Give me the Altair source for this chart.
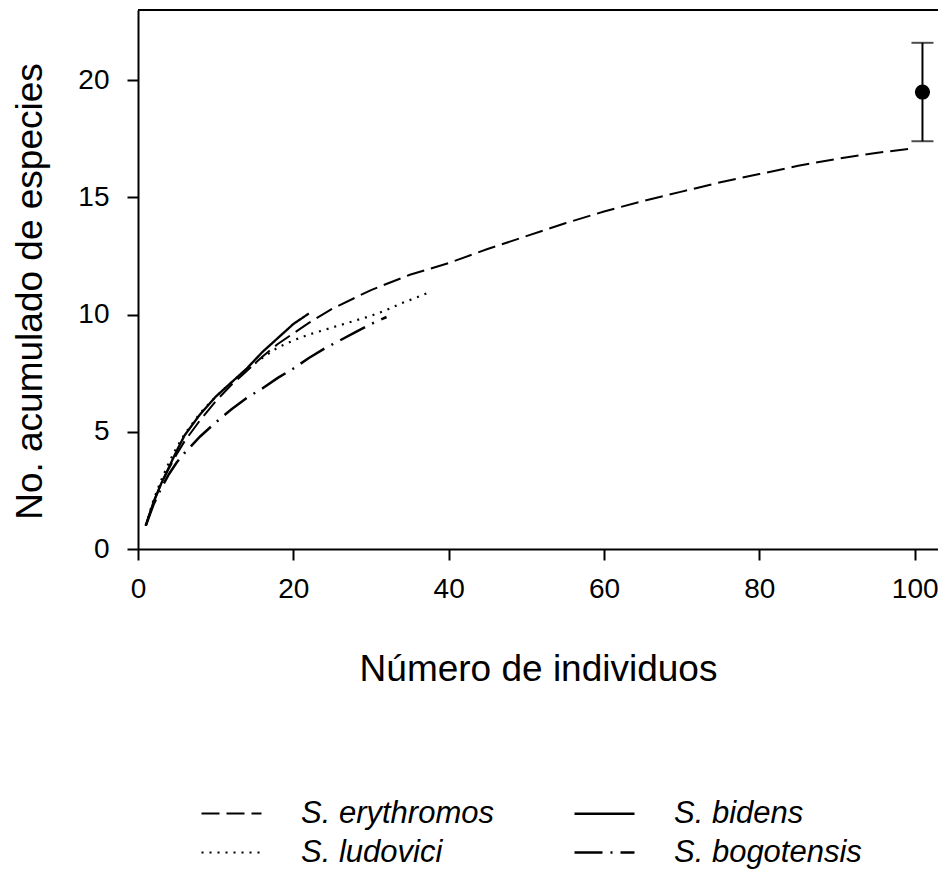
import altair as alt
import pandas as pd

# ---- data ----
ery_x = [1, 2, 3, 4, 5, 6, 8, 10, 12, 14, 16, 18, 20, 22, 25, 30, 35, 40, 45, 50, 55, 60, 65, 70, 75, 80, 85, 90, 95, 100]
ery_y = [1, 2.0, 2.8, 3.45, 4.05, 4.6, 5.5, 6.3, 7.0, 7.6, 8.2, 8.75, 9.2, 9.65, 10.25, 11.05, 11.7, 12.2, 12.8, 13.35, 13.9, 14.4, 14.85, 15.25, 15.65, 16.0, 16.35, 16.65, 16.9, 17.1]

bid_x = [1, 2, 3, 4, 5, 6, 8, 10, 12, 14, 16, 18, 20, 22]
bid_y = [1, 2.0, 2.8, 3.5, 4.2, 4.85, 5.75, 6.5, 7.1, 7.7, 8.4, 9.0, 9.6, 10.05]

lud_x = [1, 2, 3, 4, 5, 6, 8, 10, 12, 14, 16, 18, 20, 22, 24, 26, 28, 30, 32, 34, 36, 37.5]
lud_y = [1, 2.1, 2.95, 3.7, 4.35, 4.9, 5.8, 6.5, 7.1, 7.65, 8.15, 8.6, 8.9, 9.15, 9.35, 9.55, 9.75, 9.95, 10.2, 10.5, 10.75, 10.95]

bog_x = [1, 2, 3, 4, 5, 6, 8, 10, 12, 14, 16, 18, 20, 22, 24, 26, 28, 30, 32]
bog_y = [1, 1.9, 2.6, 3.2, 3.7, 4.1, 4.8, 5.4, 5.95, 6.45, 6.85, 7.3, 7.7, 8.15, 8.55, 8.9, 9.25, 9.6, 9.9]

# legend order (column-major fill): col 1 = erythromos, ludovici; col 2 = bidens, bogotensis
species = ["S. erythromos", "S. ludovici", "S. bidens", "S. bogotensis"]
dashes = [[18, 7], [2, 6], [1, 0], [28, 8, 2, 8]]
widths = [2, 2.5, 3, 2]

est_x = [101]
est_y = [19.5]
est_lo = [17.4]
est_hi = [21.6]

x_ticks = [0, 20, 40, 60, 80, 100]
y_ticks = [0, 5, 10, 15, 20]

# ---- tables ----
rows = []
for name, xs, ys in [("S. erythromos", ery_x, ery_y), ("S. bidens", bid_x, bid_y),
                     ("S. ludovici", lud_x, lud_y), ("S. bogotensis", bog_x, bog_y)]:
    for xv, yv in zip(xs, ys):
        rows.append({"sp": name, "x": xv, "y": yv})
curves = pd.DataFrame(rows)
est = pd.DataFrame({"x": est_x, "y": est_y, "lo": est_lo, "hi": est_hi})

FONT = "Liberation Sans"
W, H = 800, 539

xscale = alt.Scale(domain=[0, 103], nice=False, zero=False)
yscale = alt.Scale(domain=[0, 23], nice=False, zero=False)

xaxis = alt.Axis(values=x_ticks, title="Número de individuos", grid=False,
                 labelFontSize=28, titleFontSize=37, labelFont=FONT, titleFont=FONT,
                 titleFontWeight="normal", labelColor="black", titleColor="black",
                 domainColor="black", tickColor="black", domainWidth=2, tickWidth=2,
                 tickSize=11, labelPadding=15, titlePadding=48, labelFlush=False)
yaxis = alt.Axis(values=y_ticks, title="No. acumulado de especies", grid=False,
                 labelFontSize=28, titleFontSize=37, labelFont=FONT, titleFont=FONT,
                 titleFontWeight="normal", labelColor="black", titleColor="black",
                 domainColor="black", tickColor="black", domainWidth=2, tickWidth=2,
                 tickSize=11, labelPadding=18, titlePadding=28, labelFlush=False,
                 titleY=281)

lines = alt.Chart(curves).mark_line(color="black").encode(
    x=alt.X("x:Q", scale=xscale, axis=xaxis),
    y=alt.Y("y:Q", scale=yscale, axis=yaxis),
    strokeDash=alt.StrokeDash(
        "sp:N",
        scale=alt.Scale(domain=species, range=dashes),
        sort=species,
        legend=alt.Legend(
            title=None, orient="none", legendX=77, legendY=787, columns=2,
            symbolType="M-2,0H2", symbolSize=900, symbolStrokeWidth=2.5,
            symbolStrokeColor="black", symbolFillColor="transparent",
            labelFont=FONT, labelFontSize=31,
            labelFontStyle="italic", labelColor="black", labelOffset=53,
            columnPadding=75, rowPadding=7, labelLimit=400,
        ),
    ),
    strokeWidth=alt.StrokeWidth("sp:N", scale=alt.Scale(domain=species, range=widths), legend=None),
    order="x:Q",
)

bar = alt.Chart(est).mark_rule(color="black", strokeWidth=2).encode(
    x=alt.X("x:Q", scale=xscale), y=alt.Y("lo:Q", scale=yscale), y2="hi:Q"
)
cap_lo = alt.Chart(est).mark_tick(color="black", orient="horizontal", size=22, thickness=2).encode(
    x=alt.X("x:Q", scale=xscale), y=alt.Y("lo:Q", scale=yscale)
)
cap_hi = alt.Chart(est).mark_tick(color="black", orient="horizontal", size=22, thickness=2).encode(
    x=alt.X("x:Q", scale=xscale), y=alt.Y("hi:Q", scale=yscale)
)
pt = alt.Chart(est).mark_point(color="black", filled=True, opacity=1, size=230).encode(
    x=alt.X("x:Q", scale=xscale), y=alt.Y("y:Q", scale=yscale)
)
top = alt.Chart(est).mark_rule(color="black", strokeWidth=2).encode(
    x=alt.value(0), x2=alt.value(W), y=alt.value(0)
)

chart = alt.layer(lines, bar, cap_lo, cap_hi, pt, top).properties(
    width=W, height=H,
    autosize=alt.AutoSizeParams(type="none"),
    padding={"left": 130, "top": 2, "right": 0, "bottom": 330},
).configure_view(stroke=None)

chart.save("out.html", embed_options={"renderer": "svg", "actions": False})
